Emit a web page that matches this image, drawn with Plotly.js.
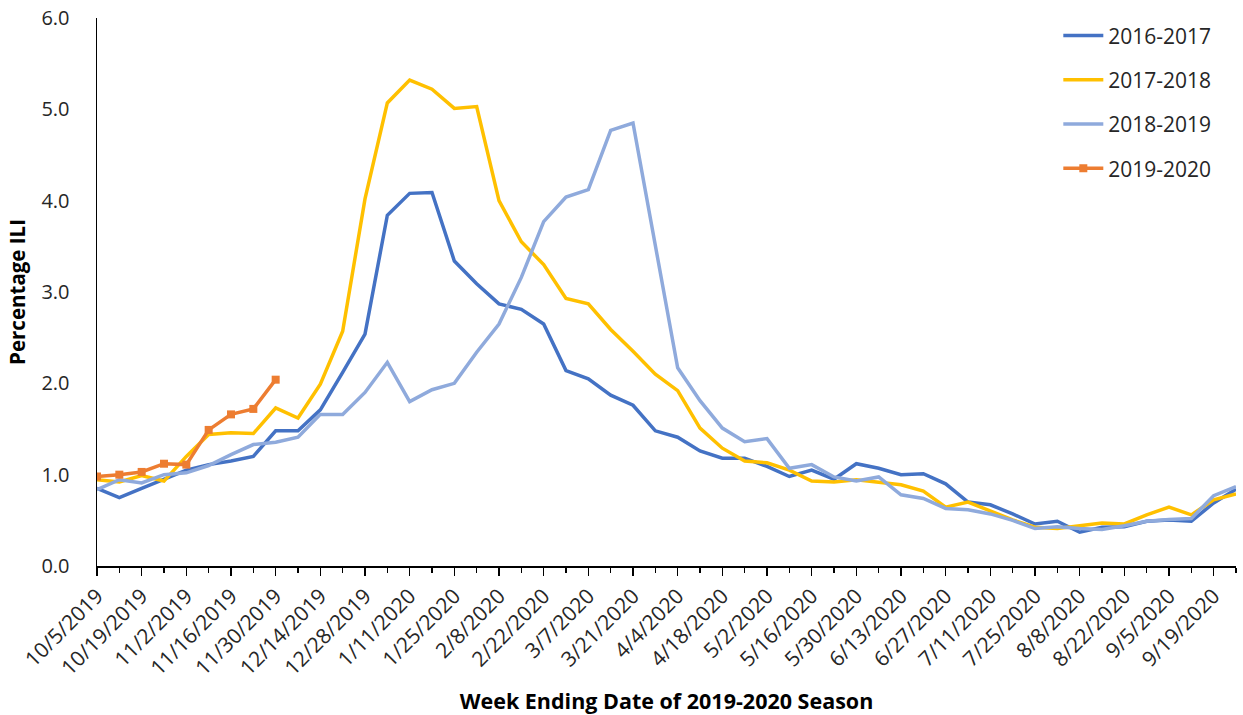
<!DOCTYPE html>
<html>
<head>
<meta charset="utf-8">
<script src="https://cdn.plot.ly/plotly-3.0.1.min.js"></script>
<style>html,body{margin:0;padding:0;background:#fff;}#chart{width:1243px;height:715px;}</style>
</head>
<body>
<div id="chart"></div>
<script>
const weeks = ["10/5/2019","10/12/2019","10/19/2019","10/26/2019","11/2/2019","11/9/2019","11/16/2019","11/23/2019","11/30/2019","12/7/2019","12/14/2019","12/21/2019","12/28/2019","1/4/2020","1/11/2020","1/18/2020","1/25/2020","2/1/2020","2/8/2020","2/15/2020","2/22/2020","2/29/2020","3/7/2020","3/14/2020","3/21/2020","3/28/2020","4/4/2020","4/11/2020","4/18/2020","4/25/2020","5/2/2020","5/9/2020","5/16/2020","5/23/2020","5/30/2020","6/6/2020","6/13/2020","6/20/2020","6/27/2020","7/4/2020","7/11/2020","7/18/2020","7/25/2020","8/1/2020","8/8/2020","8/15/2020","8/22/2020","8/29/2020","9/5/2020","9/12/2020","9/19/2020","9/26/2020"];

const s2016_2017 = [0.85,0.75,0.85,0.945,1.05,1.11,1.15,1.20,1.48,1.48,1.71,2.12,2.54,3.84,4.08,4.09,3.34,3.09,2.87,2.81,2.65,2.14,2.05,1.87,1.76,1.48,1.41,1.26,1.18,1.18,1.09,0.98,1.05,0.95,1.12,1.07,1.00,1.01,0.90,0.70,0.67,0.57,0.46,0.49,0.37,0.425,0.43,0.49,0.505,0.49,0.69,0.84];
const s2017_2018 = [0.945,0.92,0.99,0.93,1.20,1.44,1.46,1.45,1.73,1.62,1.99,2.57,4.02,5.07,5.32,5.22,5.01,5.03,4.00,3.55,3.30,2.93,2.87,2.59,2.35,2.10,1.92,1.51,1.29,1.15,1.13,1.05,0.93,0.92,0.945,0.92,0.89,0.82,0.645,0.70,0.60,0.505,0.425,0.41,0.44,0.47,0.46,0.56,0.645,0.56,0.725,0.79];
const s2018_2019 = [0.835,0.945,0.91,1.00,1.02,1.10,1.22,1.33,1.355,1.41,1.66,1.66,1.90,2.23,1.80,1.93,2.00,2.34,2.65,3.16,3.77,4.04,4.12,4.77,4.85,3.51,2.17,1.81,1.51,1.36,1.395,1.07,1.11,0.975,0.93,0.975,0.78,0.74,0.63,0.615,0.57,0.50,0.41,0.43,0.41,0.40,0.44,0.49,0.51,0.52,0.77,0.87];
const s2019_2020 = [0.98,1.00,1.03,1.12,1.11,1.49,1.66,1.72,2.04];

const seriesNames = ["2016-2017","2017-2018","2018-2019","2019-2020"];
const seriesColors = ["#4472C4","#FFC000","#8FAADC","#ED7D31"];
const yTicks = [0,1,2,3,4,5,6];

const idx = weeks.map((w,i)=>i);
const tickIdx = idx.filter(i=>i%2===0);
const tickText = tickIdx.map(i=>weeks[i]);

const allSeries = [s2016_2017, s2017_2018, s2018_2019, s2019_2020];
const traces = allSeries.map((vals,k)=>({
  x: idx.slice(0, vals.length),
  y: vals,
  type: 'scatter',
  mode: k===3 ? 'lines+markers' : 'lines',
  name: seriesNames[k],
  legendgroup: 'g'+k,
  line: {color: seriesColors[k], width: 3.5},
  marker: {symbol: 'square', size: 8, color: seriesColors[k]},
  hoverinfo: 'skip'
}));

const font = "'Open Sans', 'Noto Sans', sans-serif";
const layout = {
  width: 1243, height: 715,
  margin: {l: 97, r: 7, t: 18, b: 149},
  paper_bgcolor: '#fff', plot_bgcolor: '#fff',
  font: {family: font, color: '#262626'},
  showlegend: true,
  legend: {
    x: 0.844, xanchor: 'left', y: 1.005, yanchor: 'top',
    font: {size: 21, color: '#262626', family: font},
    tracegroupgap: 14, traceorder: 'grouped',
    bgcolor: 'rgba(0,0,0,0)', itemwidth: 40
  },
  xaxis: {
    range: [0, 51], showgrid: false, zeroline: false,
    showline: true, linecolor: '#000', linewidth: 1.5,
    tickmode: 'array', tickvals: tickIdx, ticktext: tickText,
    tickangle: -45, ticks: 'outside', ticklen: 8, tickwidth: 1.5, tickcolor: '#000',
    minor: {dtick: 1, tick0: 0, ticks: 'outside', ticklen: 5, tickwidth: 1.5, tickcolor: '#000'},
    tickfont: {size: 21, color: '#262626', family: font},
    title: {text: '<b>Week Ending Date of 2019-2020 Season</b>', font: {size: 21.5, color: '#000', family: font}, standoff: 19},
    fixedrange: true
  },
  yaxis: {
    range: [0, 6], showgrid: false, zeroline: false,
    showline: true, linecolor: '#000', linewidth: 1.5,
    tickmode: 'array', tickvals: yTicks, ticktext: yTicks.map(v=>v.toFixed(1)),
    ticks: '', ticklabelstandoff: 22,
    tickfont: {size: 20, color: '#262626', family: font},
    title: {text: '<b>Percentage ILI</b>', font: {size: 20.5, color: '#000', family: font}, standoff: 10},
    fixedrange: true
  }
};

Plotly.newPlot('chart', traces, layout, {displayModeBar: false, staticPlot: true});
</script>
</body>
</html>
